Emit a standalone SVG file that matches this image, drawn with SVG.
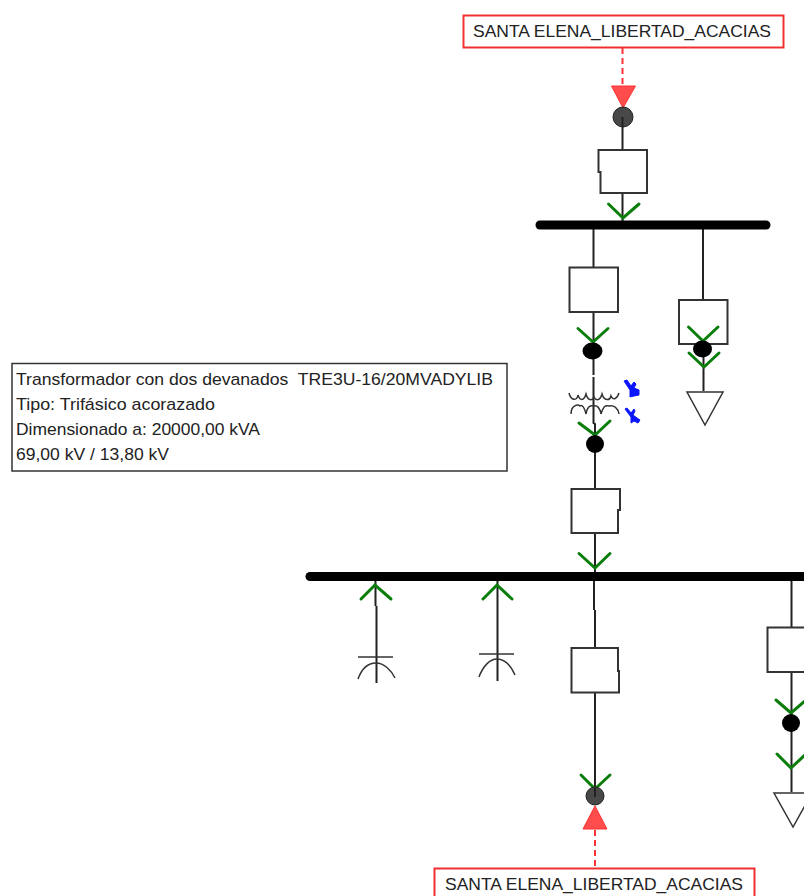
<svg xmlns="http://www.w3.org/2000/svg" width="804" height="896" viewBox="0 0 804 896">
<style>
text{font-family:"Liberation Sans",Arial,sans-serif;font-size:16.4px;fill:#222}
.w{fill:none;stroke:#222;stroke-width:2}
.box{fill:#fff;stroke:#333;stroke-width:2}
.bus{stroke:#000;stroke-width:9;stroke-linecap:round;fill:none}
.g{fill:none;stroke:#0a7d0a;stroke-width:3;stroke-linecap:round;stroke-linejoin:miter}
.d{fill:#000}
.dg{fill:#484848;stroke:#222;stroke-width:1}
.r{fill:#ff4d4d;stroke:#ff3030;stroke-width:1}
.dash{fill:none;stroke:#f33;stroke-width:2;stroke-dasharray:6 4}
.lab{fill:#fff;stroke:#f03030;stroke-width:2}
.thin{fill:none;stroke:#333;stroke-width:1.5}
.bl{fill:#0a14ff;stroke:#0a14ff;stroke-width:1}
</style>
<rect width="804" height="896" fill="#fff"/>
<g id="connectors">
<path class="dash" d="M622.500 48V86"/>
<path class="w" d="M622.500 117V149M622.500 193V225"/>
<path class="w" d="M593.500 229V267M593.500 312V375M593.500 377V423L595 424V489M595 533V576"/>
<path class="w" d="M703 229V300M703.500 344V391"/>
<path class="w" d="M375.500 580V606M376.500 606V683M497.500 580V681"/>
<path class="w" d="M594 580V610M595 610V648M595 692V796"/>
<path class="w" d="M791.500 580V627M791.500 672V792"/>
<path class="dash" d="M595 830V868"/>
</g>
<g id="label-top"><rect class="lab" x="463.500" y="15.500" width="320" height="32"/><text x="473" y="36.500" textLength="298" lengthAdjust="spacingAndGlyphs">SANTA ELENA_LIBERTAD_ACACIAS</text></g>
<g id="source-top"><path class="r" d="M611.500 86H635.500L623 108Z"/><circle class="dg" cx="623" cy="117" r="10"/><path class="w" d="M622.500 117V127"/></g>
<g id="breaker-top"><path class="box" d="M598.500 150H647V193H600.500V172H598.500Z"/><path class="g" d="M608.500 204L623 218L639 204"/></g>
<g id="bus-hv"><path class="bus" d="M540 225H766"/></g>
<g id="breaker-tr"><rect class="box" x="569.500" y="267.500" width="48.500" height="44.500"/><path class="g" d="M578 328.500L593 342L608 328.500"/><ellipse class="d" cx="592.500" cy="351" rx="10" ry="8.500"/></g>
<g id="transformer">
<path class="thin" d="M569 393C571 401 577 401 578 395C580 401 584 401 586 394C588 401 592 401 594 397C596 401 600 401 602 394C604 401 610 401 611 396C613 401 617 399 619 393"/>
<path class="thin" d="M571 414C571 405 578 404 580 406C583 404 585 410 586 414C587 407 590 405 594 406C597 405 600 408 601 414C603 407 605 405 609 406C614 405 618 408 619 414"/>
<path class="bl" d="M624 381L627 380L631 386L634 382L636 384L634 388L639 390L639 395L634 396L630 397L630 390Z"/>
<path class="bl" d="M625 409L627 408L631 413L634 409L635 411L633 415L637 418L640 420L638 423L634 421L631 423L631 417Z"/>
<path class="g" d="M579 423L595 435L610 421"/><circle class="d" cx="595" cy="444" r="9"/>
</g>
<g id="info-box"><rect x="12" y="363.500" width="495" height="107.500" fill="#fff" stroke="#333" stroke-width="1.500"/>
<text x="16" y="385" textLength="477" lengthAdjust="spacingAndGlyphs" xml:space="preserve">Transformador con dos devanados  TRE3U-16/20MVADYLIB</text>
<text x="16" y="409.500" textLength="199" lengthAdjust="spacingAndGlyphs">Tipo: Trifásico acorazado</text><text x="16" y="434.500" textLength="244" lengthAdjust="spacingAndGlyphs">Dimensionado a: 20000,00 kVA</text><text x="16" y="459.500" textLength="153" lengthAdjust="spacingAndGlyphs">69,00 kV / 13,80 kV</text></g>
<g id="breaker-load1"><rect class="box" x="679" y="300" width="48.500" height="44"/><path class="g" d="M688.500 327L703 341L718 327"/><ellipse class="d" cx="702.500" cy="349" rx="9.500" ry="8.500"/><path class="g" d="M689 353L704 367L719 353"/></g>
<g id="load1"><path class="thin" fill="#fff" d="M687 392H723L705 425Z"/></g>
<g id="breaker-lv"><path class="box" d="M571.500 489H620V510H618V533H571.500Z"/><path class="g" d="M579 553.500L595 568L610 553.500"/></g>
<g id="bus-lv"><path class="bus" d="M310 576.500H810"/></g>
<g id="cap1"><path class="g" d="M361 599L375 585L391 599"/><path class="thin" d="M358 657H393"/><path class="thin" d="M358 679C362 668 369 663 376 663C384 663 391 670 395 678"/></g>
<g id="cap2"><path class="g" d="M483 599L497 585L512 599"/><path class="thin" d="M479 654H514"/><path class="thin" d="M479 677C483 666 490 659 497 659C505 659 511 666 515 675"/></g>
<g id="breaker-out"><path class="box" d="M571.500 648H618V671H619V692.500H571.500Z"/><path class="g" d="M581 775L595 789L610 775"/></g>
<g id="source-bottom"><circle class="dg" cx="595" cy="796" r="9"/><path class="w" d="M595 788V797"/><path class="r" d="M583 829H607L595 806Z"/></g>
<g id="label-bottom"><rect class="lab" x="434.500" y="868.500" width="320" height="32"/><text x="445" y="889.500" textLength="298" lengthAdjust="spacingAndGlyphs">SANTA ELENA_LIBERTAD_ACACIAS</text></g>
<g id="breaker-load2"><rect class="box" x="767.500" y="627.500" width="48" height="44.500"/><path class="g" d="M776 700L791 713L806 700"/><circle class="d" cx="791" cy="723" r="9"/><path class="g" d="M777 754L791 768L806 754"/></g>
<g id="load2"><path class="thin" fill="#fff" d="M774 793H812L793 827Z"/></g>
</svg>
